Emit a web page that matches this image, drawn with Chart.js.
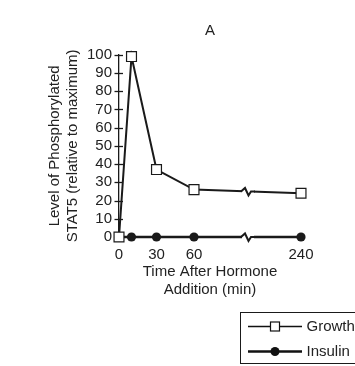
<!DOCTYPE html>
<html><head><meta charset="utf-8">
<script src="https://cdn.jsdelivr.net/npm/chart.js@4"></script>
<style>html,body{margin:0;padding:0;background:#fff;} canvas{display:block;}</style>
</head><body>
<canvas id="c" width="355" height="366"></canvas>
<script>
// ---- data ----
const chartTitle = 'A';
const timeMinutes = [0, 10, 30, 60, 240];
const growthValues = [0, 99, 37, 26, 24];
const insulinValues = [0, 0, 0, 0, 0];
const xTickMinutes = [0, 30, 60, 240];
const yMin = 0, yMax = 100, yStep = 10;
const seriesNames = ['Growth', 'Insulin'];
const xTitleLines = ['Time After Hormone', 'Addition (min)'];
const yTitleLines = ['Level of Phosphorylated', 'STAT5 (relative to maximum)'];

// ---- broken time axis (60 -> 240 compressed) ----
const BREAK_FROM = 60, BREAK_TO = 240, BREAK_SPAN = 85.6, BREAK_MARK = 103.2;
function axisPos(t) {
  return t <= BREAK_FROM ? t : BREAK_FROM + BREAK_SPAN * (t - BREAK_FROM) / (BREAK_TO - BREAK_FROM);
}
const INK = '#1a1a1a', TXT = '#222';
const FONT = {family: "'Liberation Sans', Arial, Helvetica, sans-serif", size: 15};

function legendSample(kind) {
  const c = document.createElement('canvas');
  c.width = 54; c.height = 15;
  const g = c.getContext('2d');
  g.strokeStyle = '#111';
  g.lineWidth = kind === 'square' ? 1.6 : 2.4;
  g.beginPath(); g.moveTo(0, 7.5); g.lineTo(54, 7.5); g.stroke();
  if (kind === 'square') {
    g.fillStyle = '#fff'; g.fillRect(22.5, 3, 9, 9);
    g.lineWidth = 1.2; g.strokeRect(22.5, 3, 9, 9);
  } else {
    g.fillStyle = '#111'; g.beginPath(); g.arc(27, 7.5, 4.5, 0, Math.PI * 2); g.fill();
  }
  return c;
}
const legendImgs = [legendSample('square'), legendSample('circle')];

const decorPlugin = {
  id: 'decor',
  beforeDraw(chart) {
    const lg = chart.legend;
    if (lg && lg.lineWidths) {
      lg.right = 362;
      lg.lineWidths = lg.lineWidths.map(() => lg.right - 251);
    }
  },
  beforeDatasetsDraw(chart) {
    const ys = chart.scales.y, ctx = chart.ctx;
    const x = ys.right;
    ctx.save();
    ctx.strokeStyle = INK; ctx.lineWidth = 1.3;
    ys.ticks.forEach(t => {
      const y = Math.round(ys.getPixelForValue(t.value)) + 0.5;
      ctx.beginPath(); ctx.moveTo(x - 4.5, y); ctx.lineTo(x + 4, y); ctx.stroke();
    });
    ctx.restore();
  },
  afterDatasetsDraw(chart) {
    const ctx = chart.ctx;
    const px = chart.scales.x.getPixelForValue(BREAK_MARK);
    ctx.save();
    chart.data.datasets.forEach((ds, i) => {
      const pts = chart.getDatasetMeta(i).data;
      for (let k = 0; k < pts.length - 1; k++) {
        const a = pts[k], b = pts[k + 1];
        if (a.x <= px && b.x >= px) {
          const y = a.y + (b.y - a.y) * (px - a.x) / (b.x - a.x);
          ctx.fillStyle = '#fff';
          ctx.fillRect(px - 6, y - 2, 12, 4);
          ctx.strokeStyle = INK; ctx.lineWidth = 2; ctx.lineJoin = 'miter';
          ctx.beginPath();
          ctx.moveTo(px - 7, y); ctx.lineTo(px - 3, y - 3.5); ctx.lineTo(px + 0.5, y + 4); ctx.lineTo(px + 3, y); ctx.lineTo(px + 7, y);
          ctx.stroke();
        }
      }
    });
    ctx.restore();
  },
  afterDraw(chart) {
    const ctx = chart.ctx;
    ctx.save();
    ctx.strokeStyle = INK; ctx.lineWidth = 1;
    ctx.strokeRect(240.5, 312.5, 130, 51);
    ctx.restore();
  }
};

new Chart(document.getElementById('c'), {
  type: 'line',
  data: {
    datasets: [
      {
        label: seriesNames[0],
        data: timeMinutes.map((t, i) => ({x: axisPos(t), y: growthValues[i]})),
        borderColor: INK, borderWidth: 2, backgroundColor: '#fff',
        pointStyle: 'rect', pointRadius: 7, pointBorderWidth: 1.2,
        pointBackgroundColor: '#fff', pointBorderColor: INK,
        tension: 0, clip: false
      },
      {
        label: seriesNames[1],
        data: timeMinutes.map((t, i) => ({x: axisPos(t), y: insulinValues[i]})),
        borderColor: INK, borderWidth: 2.4, backgroundColor: INK,
        pointStyle: 'circle', pointRadius: 4.6, pointBorderWidth: 0,
        pointBackgroundColor: INK,
        tension: 0, clip: false
      }
    ]
  },
  options: {
    responsive: false, animation: false, devicePixelRatio: 1,
    layout: {padding: {left: 46, right: 54, top: 0, bottom: -3}},
    plugins: {
      title: {display: true, text: chartTitle, fullSize: false, color: TXT,
              font: {...FONT, weight: 'normal'}, padding: {top: 21.4, bottom: 15.35}},
      legend: {
        display: true, position: 'bottom', fullSize: false, align: 'end',
        labels: {
          usePointStyle: true, pointStyleWidth: 48, padding: 10, color: TXT, font: FONT,
          generateLabels: (chart) => chart.data.datasets.map((ds, i) => ({
            text: ds.label, pointStyle: legendImgs[i], fillStyle: INK, strokeStyle: INK,
            lineWidth: 0, hidden: false, datasetIndex: i, fontColor: TXT
          }))
        }
      },
      tooltip: {enabled: false}
    },
    scales: {
      x: {
        type: 'linear', min: axisPos(0), max: axisPos(BREAK_TO),
        afterBuildTicks: (s) => { s.ticks = xTickMinutes.map(t => ({value: axisPos(t)})); },
        afterFit: (s) => { s.height = 72; },
        ticks: {
          color: TXT, font: FONT, padding: 9, maxRotation: 0, autoSkip: false,
          callback: (v) => { const i = xTickMinutes.findIndex(t => Math.abs(axisPos(t) - v) < 1e-6); return i >= 0 ? String(xTickMinutes[i]) : ''; }
        },
        grid: {display: false, drawTicks: false},
        border: {display: false},
        title: {display: true, text: xTitleLines, color: TXT, font: FONT, padding: {top: 0, bottom: 10.4}}
      },
      y: {
        min: yMin, max: yMax,
        afterFit: (s) => { s.width = 73; },
        ticks: {stepSize: yStep, color: TXT, font: FONT, padding: 7, autoSkip: false},
        grid: {display: false, drawTicks: false},
        border: {display: true, color: INK, width: 1.3},
        title: {display: true, text: yTitleLines, color: TXT, font: FONT, padding: {top: 0, bottom: 0}}
      }
    }
  },
  plugins: [decorPlugin]
});
</script>
</body></html>
